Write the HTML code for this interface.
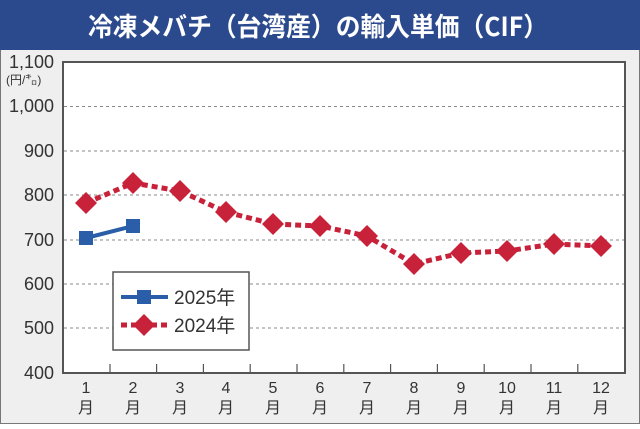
<!DOCTYPE html>
<html><head><meta charset="utf-8"><style>
body{margin:0;width:640px;height:424px;overflow:hidden;background:#fff}
</style></head><body>
<svg width="640" height="424" viewBox="0 0 640 424" xmlns="http://www.w3.org/2000/svg" font-family="Liberation Sans, Noto Sans CJK JP, sans-serif">
<rect x="0.5" y="0.5" width="639" height="423" fill="#efefef" stroke="#777"/>
<rect x="0" y="0" width="640" height="50" fill="#2b4a8d"/>
<text x="88" y="36" fill="#fff" font-size="26" font-weight="bold" textLength="460" lengthAdjust="spacingAndGlyphs" font-family="Noto Sans CJK JP, sans-serif">冷凍メバチ（台湾産）の輸入単価（CIF）</text>
<rect x="63" y="62" width="562" height="311" fill="#fff" stroke="#555" stroke-width="2"/>
<g stroke="#888" stroke-width="1" stroke-dasharray="3,3">
<line x1="64" x2="624" y1="106.5" y2="106.5"/><line x1="64" x2="624" y1="151" y2="151"/>
<line x1="64" x2="624" y1="195" y2="195"/><line x1="64" x2="624" y1="240" y2="240"/>
<line x1="64" x2="624" y1="284" y2="284"/><line x1="64" x2="624" y1="328" y2="328"/>
</g>
<g stroke="#555" stroke-width="1.2">
<line x1="110" x2="110" y1="364" y2="373"/><line x1="156.6" x2="156.6" y1="364" y2="373"/><line x1="203.4" x2="203.4" y1="364" y2="373"/><line x1="250.2" x2="250.2" y1="364" y2="373"/><line x1="297" x2="297" y1="364" y2="373"/><line x1="343.8" x2="343.8" y1="364" y2="373"/><line x1="390.6" x2="390.6" y1="364" y2="373"/><line x1="437.4" x2="437.4" y1="364" y2="373"/><line x1="484.2" x2="484.2" y1="364" y2="373"/><line x1="531" x2="531" y1="364" y2="373"/><line x1="577.8" x2="577.8" y1="364" y2="373"/>
</g>
<g font-size="18" fill="#333" text-anchor="end">
<text x="54" y="68">1,100</text><text x="54" y="112">1,000</text><text x="54" y="157">900</text><text x="54" y="201">800</text><text x="54" y="246">700</text><text x="54" y="290">600</text><text x="54" y="334">500</text><text x="54" y="379">400</text>
</g>
<text x="6" y="84" font-size="12" fill="#333">(円/㌔)</text>
<g font-size="16" fill="#333" text-anchor="middle">
<text x="86" y="393">1</text><text x="133" y="393">2</text><text x="180" y="393">3</text><text x="226" y="393">4</text><text x="273" y="393">5</text><text x="320" y="393">6</text><text x="367" y="393">7</text><text x="414" y="393">8</text><text x="461" y="393">9</text><text x="507" y="393">10</text><text x="554" y="393">11</text><text x="601" y="393">12</text>
<text x="86" y="413">月</text><text x="133" y="413">月</text><text x="180" y="413">月</text><text x="226" y="413">月</text><text x="273" y="413">月</text><text x="320" y="413">月</text><text x="367" y="413">月</text><text x="414" y="413">月</text><text x="461" y="413">月</text><text x="507" y="413">月</text><text x="554" y="413">月</text><text x="601" y="413">月</text>
</g>
<polyline fill="none" stroke="#c8213a" stroke-width="5" stroke-dasharray="6,4" points="86,203 133,183 180,191 226,212 273,224 320,226 367,236 414,264 461,253 507,251 554,244 601,246"/>
<g fill="#c8213a">
<path d="M86,192l11,11l-11,11l-11,-11z"/><path d="M133,172l11,11l-11,11l-11,-11z"/><path d="M180,180l11,11l-11,11l-11,-11z"/><path d="M226,201l11,11l-11,11l-11,-11z"/><path d="M273,213l11,11l-11,11l-11,-11z"/><path d="M320,215l11,11l-11,11l-11,-11z"/><path d="M367,225l11,11l-11,11l-11,-11z"/><path d="M414,253l11,11l-11,11l-11,-11z"/><path d="M461,242l11,11l-11,11l-11,-11z"/><path d="M507,240l11,11l-11,11l-11,-11z"/><path d="M554,233l11,11l-11,11l-11,-11z"/><path d="M601,235l11,11l-11,11l-11,-11z"/>
</g>
<polyline fill="none" stroke="#2a5ea8" stroke-width="4" points="86,238 133,226"/>
<rect x="79" y="231" width="14" height="14" fill="#2a5ea8"/><rect x="126" y="219" width="14" height="14" fill="#2a5ea8"/>
<rect x="113" y="272" width="136" height="78" fill="#fff" stroke="#555" stroke-width="1.5"/>
<line x1="121" x2="168" y1="297" y2="297" stroke="#2a5ea8" stroke-width="4"/>
<rect x="137" y="290" width="14" height="14" fill="#2a5ea8"/>
<line x1="121" x2="168" y1="325" y2="325" stroke="#c8213a" stroke-width="5" stroke-dasharray="6,4"/>
<path d="M144,314l11,11l-11,11l-11,-11z" fill="#c8213a"/>
<text x="174" y="304" font-size="19" fill="#333">2025年</text>
<text x="174" y="332" font-size="19" fill="#333">2024年</text>
</svg>
</body></html>
